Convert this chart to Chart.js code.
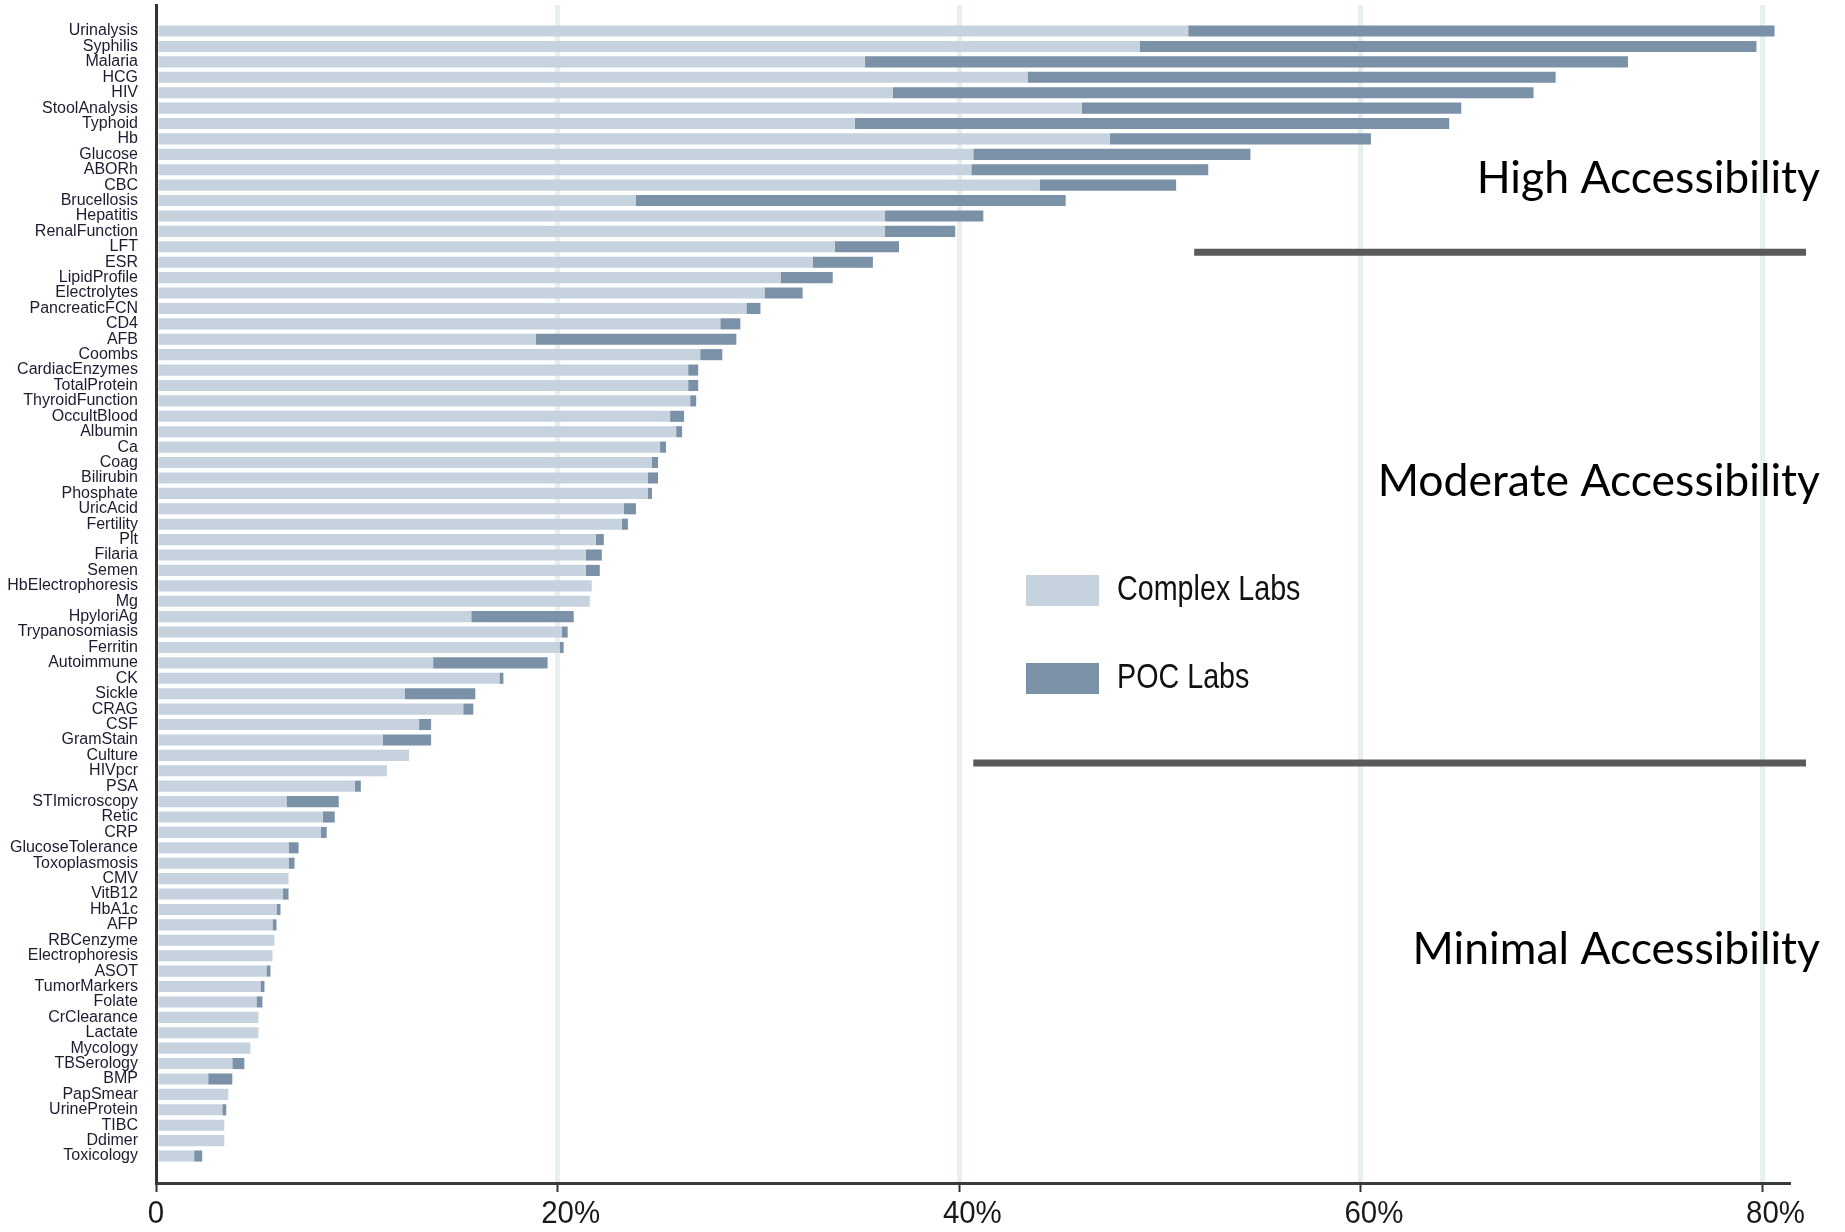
<!DOCTYPE html>
<html>
<head>
<meta charset="utf-8">
<title>Lab test accessibility</title>
<script src="https://cdn.jsdelivr.net/npm/chart.js@4.4.1/dist/chart.umd.min.js"></script>
<style>
  html, body { margin: 0; padding: 0; background: #fff; }
  #wrap { width: 1845px; height: 1232px; }
</style>
</head>
<body>
<div id="wrap"><canvas id="chart" width="1845" height="1232"></canvas></div>
<script>
var categories = ['Urinalysis', 'Syphilis', 'Malaria', 'HCG', 'HIV', 'StoolAnalysis', 'Typhoid', 'Hb', 'Glucose', 'ABORh',
  'CBC', 'Brucellosis', 'Hepatitis', 'RenalFunction', 'LFT', 'ESR', 'LipidProfile', 'Electrolytes', 'PancreaticFCN', 'CD4',
  'AFB', 'Coombs', 'CardiacEnzymes', 'TotalProtein', 'ThyroidFunction', 'OccultBlood', 'Albumin', 'Ca', 'Coag', 'Bilirubin',
  'Phosphate', 'UricAcid', 'Fertility', 'Plt', 'Filaria', 'Semen', 'HbElectrophoresis', 'Mg', 'HpyloriAg', 'Trypanosomiasis',
  'Ferritin', 'Autoimmune', 'CK', 'Sickle', 'CRAG', 'CSF', 'GramStain', 'Culture', 'HIVpcr', 'PSA',
  'STImicroscopy', 'Retic', 'CRP', 'GlucoseTolerance', 'Toxoplasmosis', 'CMV', 'VitB12', 'HbA1c', 'AFP', 'RBCenzyme',
  'Electrophoresis', 'ASOT', 'TumorMarkers', 'Folate', 'CrClearance', 'Lactate', 'Mycology', 'TBSerology', 'BMP', 'PapSmear',
  'UrineProtein', 'TIBC', 'Ddimer', 'Toxicology'];

// share of facilities (%) - light segment
var complexLabs = [51.4, 49.0, 35.3, 43.4, 36.7, 46.1, 34.8, 47.5, 40.7, 40.6,
  44.0, 23.9, 36.3, 36.3, 33.8, 32.7, 31.1, 30.3, 29.4, 28.1,
  18.9, 27.1, 26.5, 26.5, 26.6, 25.6, 25.9, 25.1, 24.7, 24.5,
  24.5, 23.3, 23.2, 21.9, 21.4, 21.4, 21.7, 21.6, 15.7, 20.2,
  20.1, 13.8, 17.1, 12.4, 15.3, 13.1, 11.3, 12.6, 11.5, 9.9,
  6.5, 8.3, 8.2, 6.6, 6.6, 6.6, 6.3, 6.0, 5.8, 5.9,
  5.8, 5.5, 5.2, 5.0, 5.1, 5.1, 4.7, 3.8, 2.6, 3.6,
  3.3, 3.4, 3.4, 1.9];

// dark segment stacked on top
var pocLabs = [29.2, 30.7, 38.0, 26.3, 31.9, 18.9, 29.6, 13.0, 13.8, 11.8,
  6.8, 21.4, 4.9, 3.5, 3.2, 3.0, 2.6, 1.9, 0.7, 1.0,
  10.0, 1.1, 0.5, 0.5, 0.3, 0.7, 0.3, 0.3, 0.3, 0.5,
  0.2, 0.6, 0.3, 0.4, 0.8, 0.7, 0, 0, 5.1, 0.3,
  0.2, 5.7, 0.2, 3.5, 0.5, 0.6, 2.4, 0, 0, 0.3,
  2.6, 0.6, 0.3, 0.5, 0.3, 0, 0.3, 0.2, 0.2, 0,
  0, 0.2, 0.2, 0.3, 0, 0, 0, 0.6, 1.2, 0,
  0.2, 0, 0, 0.4];

var seriesNames = ['Complex Labs', 'POC Labs'];
var seriesColors = ['#c6d2dd', '#7b91a8'];
var xTickValues = [0, 20, 40, 60, 80];

var zoneNames = ['High Accessibility', 'Moderate Accessibility', 'Minimal Accessibility'];
var dividerRows = [14.35, 47.5];
var dividerStarts = [51.7, 40.7];

function toPoints(values) {
  var pts = [];
  for (var i = 0; i < values.length; i++) {
    pts.push({ x: values[i], y: i });
  }
  return pts;
}

// squeezed text, to get close to the narrow faces of the original
function narrowText(ctx, text, x, y, sx) {
  ctx.save();
  ctx.translate(x, y);
  ctx.scale(sx, 1);
  ctx.fillText(text, 0, 0);
  ctx.restore();
}

var overlayPlugin = {
  id: 'overlay',
  afterDraw: function (chart) {
    var ctx = chart.ctx;
    var xs = chart.scales.x;
    var ys = chart.scales.y;
    var area = chart.chartArea;
    ctx.save();

    // x tick labels from the scale's ticks; the number sits on the tick, '%' hangs right
    var tsx = 0.92;
    ctx.fillStyle = '#1a1a1a';
    ctx.font = '32px "Liberation Sans", Arial, sans-serif';
    ctx.textAlign = 'left';
    ctx.textBaseline = 'middle';
    for (var t = 0; t < xs.ticks.length; t++) {
      var lab = String(xs.ticks[t].label);
      var num = lab.replace('%', '');
      var w = ctx.measureText(num).width * tsx;
      narrowText(ctx, lab, xs.getPixelForTick(t) - w / 2, area.bottom + 31, tsx);
    }

    // zone dividers
    ctx.strokeStyle = '#5a5a5a';
    ctx.lineWidth = 7;
    for (var i = 0; i < dividerRows.length; i++) {
      var py = ys.getPixelForValue(dividerRows[i]);
      ctx.beginPath();
      ctx.moveTo(xs.getPixelForValue(dividerStarts[i]), py);
      ctx.lineTo(area.right + 18, py);
      ctx.stroke();
    }

    // zone captions
    var zoneY = [179, 482, 950];
    ctx.fillStyle = '#000';
    ctx.font = '44.5px Lato, "Open Sans", sans-serif';
    ctx.textAlign = 'right';
    for (var j = 0; j < zoneNames.length; j++) {
      ctx.fillText(zoneNames[j], 1820, zoneY[j]);
    }

    // legend
    var legY = [575, 663];
    ctx.font = '35px "Liberation Sans", Arial, sans-serif';
    ctx.textAlign = 'left';
    for (var k = 0; k < chart.data.datasets.length; k++) {
      var ds = chart.data.datasets[k];
      ctx.fillStyle = ds.backgroundColor;
      ctx.fillRect(1026, legY[k], 73, 31);
      ctx.fillStyle = '#111';
      narrowText(ctx, ds.label, 1117, legY[k] + 15, 0.82);
    }
    ctx.restore();
  }
};

var chart = new Chart(document.getElementById('chart').getContext('2d'), {
  type: 'bar',
  data: {
    datasets: [
      { label: seriesNames[0], data: toPoints(complexLabs), backgroundColor: seriesColors[0], barPercentage: 0.9, categoryPercentage: 0.8 },
      { label: seriesNames[1], data: toPoints(pocLabs), backgroundColor: seriesColors[1], barPercentage: 0.9, categoryPercentage: 0.8 }
    ]
  },
  options: {
    indexAxis: 'y',
    responsive: false,
    animation: false,
    layout: { padding: { top: 5, right: 57, bottom: 0, left: 0 } },
    plugins: { legend: { display: false }, tooltip: { enabled: false } },
    scales: {
      x: {
        type: 'linear',
        stacked: true,
        min: 0,
        max: 81.27,
        afterFit: function (scale) {
          scale.height = 49;
          scale.paddingLeft = 0;
          scale.paddingRight = 0;
        },
        afterBuildTicks: function (scale) {
          scale.ticks = xTickValues.map(function (v) { return { value: v }; });
        },
        ticks: {
          padding: 0,
          color: 'rgba(0,0,0,0)',
          font: { size: 30 },
          callback: function (v) { return v === 0 ? '0' : v + '%'; }
        },
        grid: {
          color: function (c) { return c.tick && c.tick.value === 0 ? 'rgba(0,0,0,0)' : '#e7eff1'; },
          lineWidth: 5,
          tickColor: '#333',
          tickWidth: 2,
          tickLength: 9
        },
        border: { display: true, color: '#3a3a3a', width: 3 }
      },
      y: {
        type: 'linear',
        stacked: true,
        reverse: true,
        offset: false,
        bounds: 'data',
        min: -1.69,
        max: 74.75,
        afterFit: function (scale) {
          scale.width = 156;
          scale.paddingTop = 0;
          scale.paddingBottom = 0;
        },
        afterBuildTicks: function (scale) {
          scale.ticks = categories.map(function (c, i) { return { value: i }; });
        },
        ticks: {
          autoSkip: false,
          padding: 18,
          color: '#1c1c30',
          font: { family: '"Liberation Sans", Arial, sans-serif', size: 16 },
          callback: function (v) { return categories[v] || ''; }
        },
        grid: { offset: false, drawOnChartArea: false, drawTicks: false },
        border: { display: true, color: '#333', width: 3 }
      }
    }
  },
  plugins: [overlayPlugin]
});
</script>
</body>
</html>
